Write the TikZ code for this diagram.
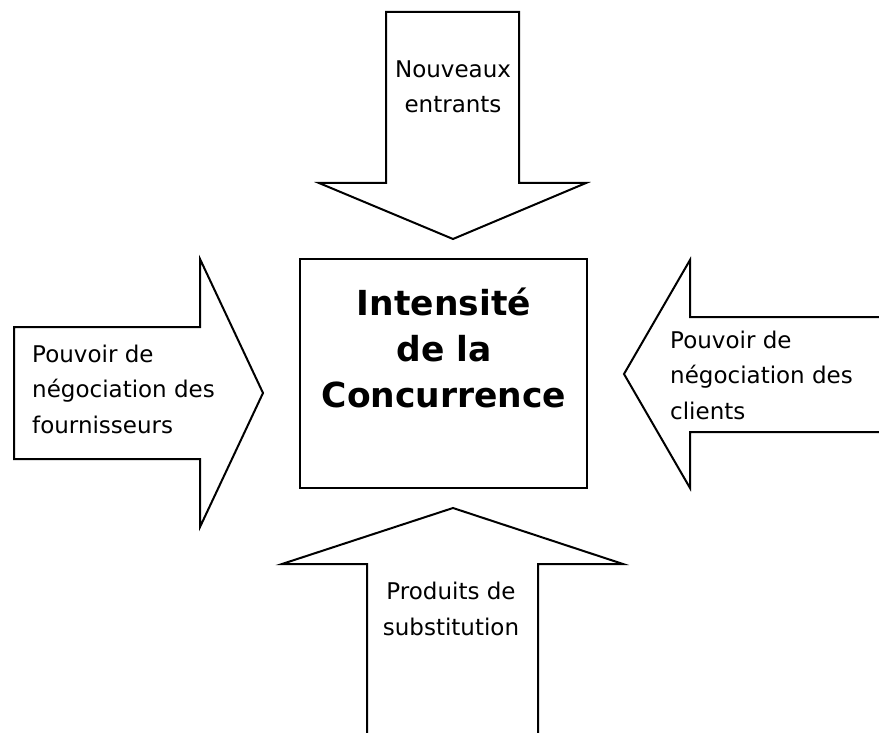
\documentclass[tikz,border=0pt]{standalone}
\usepackage{fontspec}
\setmainfont{DejaVu Sans}
\begin{document}
\begin{tikzpicture}[x=1pt,y=-1pt,
  arrowshape/.style={draw=black,line width=2pt,line join=miter,fill=white},
  boxshape/.style={draw=black,line width=2pt,fill=white,inner sep=0pt,minimum width=287pt,minimum height=229pt},
  lbl/.style={font=\fontsize{23}{35.5}\selectfont,inner sep=0pt},
  ttl/.style={font=\fontsize{34.5}{46}\selectfont\bfseries,inner sep=0pt}]
\useasboundingbox (0,0) rectangle (879,733);
% top arrow (down)
\draw[arrowshape] (386,12) -- (519,12) -- (519,183) -- (586,183) -- (453,239) -- (319,183) -- (386,183) -- cycle;
% left arrow (right)
\draw[arrowshape] (14,327) -- (200,327) -- (200,259) -- (263,393) -- (200,527) -- (200,459) -- (14,459) -- cycle;
% right arrow (left), shaft runs off the page
\draw[arrowshape] (885,317) -- (690,317) -- (690,260) -- (624,374) -- (690,488) -- (690,432) -- (885,432);
% bottom arrow (up), shaft runs off the page
\draw[arrowshape] (367,740) -- (367,564) -- (282,564) -- (453,508) -- (623,564) -- (538,564) -- (538,740);
% central box
\node[boxshape] (box) at (443.5,373.5) {};
% labels (anchor base = baseline of the last line)
\node[lbl,align=center,anchor=base] (entrants) at (453,113) {Nouveaux\\entrants};
\node[lbl,align=left,anchor=base west] (fournisseurs) at (32,433) {Pouvoir de\\négociation des\\fournisseurs};
\node[lbl,align=left,anchor=base west] (clients) at (670,419) {Pouvoir de\\négociation des\\clients};
\node[lbl,align=center,anchor=base] (substitution) at (451,635) {Produits de\\substitution};
\node[ttl,align=center,anchor=base] (intensite) at (444,407) {Intensité\\de la\\Concurrence};
\end{tikzpicture}
\end{document}
